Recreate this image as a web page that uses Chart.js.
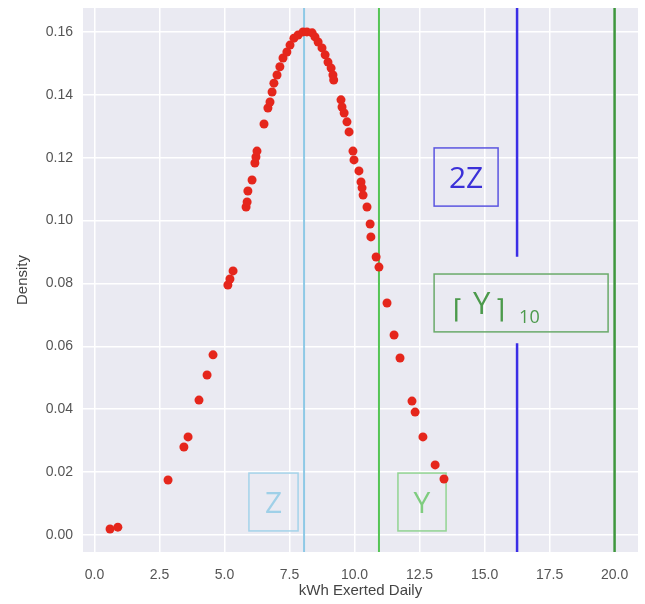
<!DOCTYPE html>
<html>
<head>
<meta charset="utf-8">
<script src="https://cdn.jsdelivr.net/npm/chart.js@4.4.1/dist/chart.umd.min.js"></script>
<style>
  html, body { margin: 0; padding: 0; background: #fff; }
  canvas { display: block; }
</style>
</head>
<body>
<canvas id="densityChart" width="645" height="604" style="width:645px;height:604px"></canvas>
<script>
// daily kWh values and their density
const kwh = [
    0.6, 0.9, 2.83, 3.44, 3.6, 4.02, 4.33, 4.56,
    5.13, 5.21, 5.33, 5.83, 5.87, 5.9, 6.06, 6.17, 6.21, 6.25,
    6.52, 6.67, 6.75, 6.83, 6.9, 7.02, 7.13, 7.25, 7.4, 7.52, 7.67, 7.83, 8.02, 8.17,
    8.37, 8.48, 8.6, 8.75, 8.87, 8.98, 9.1, 9.17, 9.2, 9.48, 9.52, 9.6, 9.71, 9.79,
    9.94, 9.98, 10.17, 10.25, 10.29, 10.33, 10.48, 10.6, 10.63, 10.83, 10.94,
    11.25, 11.52, 11.75, 12.21, 12.33, 12.63, 13.1, 13.44
];
const density = [
    0.0019, 0.0025, 0.0175, 0.028, 0.0312, 0.0429, 0.0509, 0.0573,
    0.0795, 0.0814, 0.084, 0.1043, 0.1059, 0.1094, 0.1129, 0.1183, 0.1202, 0.1221,
    0.1307, 0.1358, 0.1377, 0.1409, 0.1437, 0.1463, 0.1489, 0.1517, 0.1536, 0.1558, 0.158, 0.159, 0.16, 0.16,
    0.1597, 0.1584, 0.1568, 0.1549, 0.1527, 0.1504, 0.1485, 0.1463, 0.1447, 0.1384, 0.1361, 0.1342, 0.1314, 0.1282,
    0.1221, 0.1193, 0.1158, 0.1123, 0.1104, 0.1081, 0.1043, 0.0989, 0.0948, 0.0884, 0.0852,
    0.0738, 0.0636, 0.0563, 0.0426, 0.0391, 0.0312, 0.0223, 0.0178
];

// vertical reference lines: Z, Y, 2Z, ceil(Y)_10
const refNames = ['Z', 'Y', '2Z', 'Y10'];
const refX = [8.06, 10.94, 16.25, 20];

const xTicks = [0, 2.5, 5, 7.5, 10, 12.5, 15, 17.5, 20];
const yTicks = [0, 0.02, 0.04, 0.06, 0.08, 0.10, 0.12, 0.14, 0.16];

const X_MIN = -0.44, X_MAX = 20.9;
const Y_MIN = -0.0054, Y_MAX = 0.1676;

const refColors = ['#8ec9e6', '#55c455', '#3a2de6', '#3e973e'];
const refWidths = [2, 2, 2.5, 2.5];

const points = kwh.map((v, i) => ({ x: v, y: density[i] }));

const refSets = refX.map((xv, i) => {
    let data = [{ x: xv, y: Y_MIN }, { x: xv, y: Y_MAX }];
    if (refNames[i] === '2Z') {
        // line is interrupted where the ceil box sits
        data = [{ x: xv, y: Y_MAX }, { x: xv, y: 0.0885 }, { x: xv, y: null }, { x: xv, y: 0.061 }, { x: xv, y: Y_MIN }];
    }
    return {
        label: refNames[i],
        data: data,
        showLine: true,
        spanGaps: false,
        borderColor: refColors[i],
        borderWidth: refWidths[i],
        pointRadius: 0,
        order: 2
    };
});

// boxed labels, placed in data units
const boxes = [
    { x0: 5.94, x1: 7.83, y0: 0.0013, y1: 0.0197, color: '#a4d3ea', text: 'Z', textColor: '#9fd0e8' },
    { x0: 11.67, x1: 13.52, y0: 0.0013, y1: 0.0197, color: '#92d492', text: 'Y', textColor: '#7fcc7f' },
    { x0: 13.06, x1: 15.52, y0: 0.1046, y1: 0.1231, color: '#5b55e0', text: '2Z', textColor: '#3b30d8' },
    { x0: 13.06, x1: 19.75, y0: 0.0646, y1: 0.0830, color: '#6aaa6a', text: null, textColor: '#4c9a4c' }
];

const plotBackground = {
    id: 'plotBackground',
    beforeDraw(chart) {
        const { ctx, chartArea: a } = chart;
        ctx.save();
        ctx.fillStyle = '#eaeaf2';
        ctx.fillRect(a.left, a.top, a.right - a.left, a.bottom - a.top);
        ctx.restore();
    }
};

const labelBoxes = {
    id: 'labelBoxes',
    beforeDatasetsDraw(chart) {
        const { ctx, scales: { x, y } } = chart;
        ctx.save();
        boxes.forEach(b => {
            const l = x.getPixelForValue(b.x0);
            const r = x.getPixelForValue(b.x1);
            const t = y.getPixelForValue(b.y1);
            const bt = y.getPixelForValue(b.y0);
            ctx.strokeStyle = b.color;
            ctx.lineWidth = 1.5;
            ctx.strokeRect(l, t, r - l, bt - t);
            ctx.fillStyle = b.textColor;
            if (b.text) {
                ctx.font = '30px "Open Sans", sans-serif';
                ctx.textAlign = 'center';
                ctx.textBaseline = 'middle';
                ctx.fillText(b.text, (l + r) / 2, (t + bt) / 2 + 2);
            } else {
                // ⌈Y⌉ with subscript 10
                ctx.textAlign = 'left';
                ctx.textBaseline = 'alphabetic';
                ctx.font = '26px "DejaVu Sans", sans-serif';
                ctx.fillText('⌈', l + 19, t + 44);
                ctx.font = '31px "Open Sans", sans-serif';
                ctx.fillText('Y', l + 39, t + 40);
                ctx.font = '26px "DejaVu Sans", sans-serif';
                ctx.fillText('⌉', l + 61, t + 44);
                ctx.font = '18px "Open Sans", sans-serif';
                ctx.fillText('10', l + 85, t + 49);
            }
        });
        ctx.restore();
    }
};

const tickFont = { family: '"Liberation Sans", Arial, sans-serif', size: 14 };
const titleFont = { family: '"Liberation Sans", Arial, sans-serif', size: 15 };

new Chart(document.getElementById('densityChart'), {
    type: 'scatter',
    data: {
        datasets: [
            {
                label: 'Density',
                data: points,
                backgroundColor: '#e5261c',
                borderColor: '#e5261c',
                borderWidth: 0,
                pointRadius: 4.5,
                order: 0
            },
            ...refSets
        ]
    },
    options: {
        responsive: false,
        animation: false,
        layout: { padding: { top: 8, right: 7, left: 0, bottom: 0 } },
        plugins: {
            legend: { display: false },
            tooltip: { enabled: false }
        },
        scales: {
            x: {
                type: 'linear',
                min: X_MIN,
                max: X_MAX,
                afterBuildTicks: s => { s.ticks = xTicks.map(v => ({ value: v })); },
                afterFit: s => { s.height = 52; s.paddingLeft = 0; s.paddingRight = 0; },
                grid: { color: '#ffffff', lineWidth: 1.5, drawTicks: false },
                border: { display: false },
                ticks: {
                    padding: 15,
                    color: '#555555',
                    font: tickFont,
                    maxRotation: 0,
                    callback: v => v.toFixed(1)
                },
                title: {
                    display: true,
                    text: 'kWh Exerted Daily',
                    color: '#444444',
                    font: titleFont,
                    padding: { top: 0, bottom: 4 }
                }
            },
            y: {
                type: 'linear',
                min: Y_MIN,
                max: Y_MAX,
                afterBuildTicks: s => { s.ticks = yTicks.map(v => ({ value: v })); },
                afterFit: s => { s.width = 83; s.paddingTop = 0; s.paddingBottom = 0; },
                grid: { color: '#ffffff', lineWidth: 1.5, drawTicks: false },
                border: { display: false },
                ticks: {
                    padding: 10,
                    color: '#555555',
                    font: tickFont,
                    callback: v => v.toFixed(2)
                },
                title: {
                    display: true,
                    text: 'Density',
                    color: '#444444',
                    font: titleFont,
                    padding: { top: 14, bottom: 0 }
                }
            }
        }
    },
    plugins: [plotBackground, labelBoxes]
});
</script>
</body>
</html>
